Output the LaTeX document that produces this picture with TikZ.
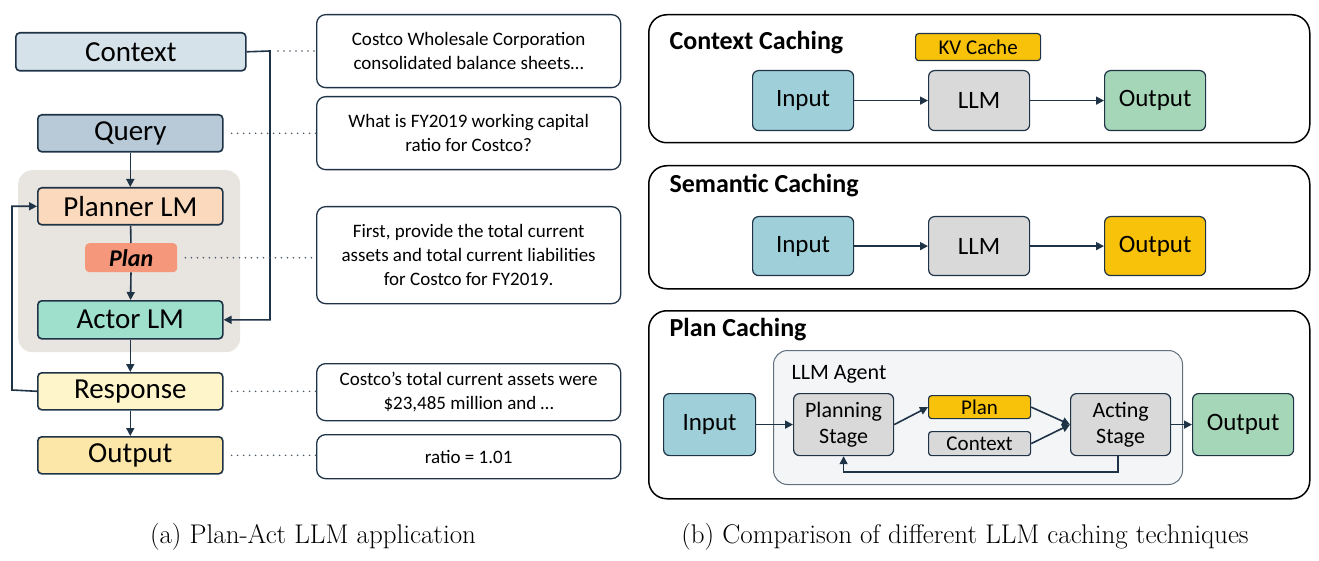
\documentclass[tikz,border=0pt]{standalone}
\usepackage{fontspec}
\setsansfont{Carlito}
\usetikzlibrary{arrows.meta,calc}
\definecolor{ln}{HTML}{1F3347}
\begin{document}
\begin{tikzpicture}[x=1pt,y=-1pt,
 blk/.style={draw=ln,line width=1.6pt,rounded corners=4pt,font=\sffamily\fontsize{29}{29}\selectfont,inner sep=0pt,anchor=north west},
 txt/.style={draw=ln,line width=1.3pt,rounded corners=9pt,font=\sffamily\fontsize{19}{24}\selectfont,align=center,inner sep=0pt,anchor=north west},
 rb/.style={draw=ln,line width=1.2pt,rounded corners=6pt,font=\sffamily\fontsize{25}{25}\selectfont,inner sep=0pt,anchor=north west,align=center},
 pan/.style={draw=black,line width=1.5pt,rounded corners=18pt,anchor=north west,inner sep=0pt},
 ttl/.style={font=\sffamily\bfseries\fontsize{26}{26}\selectfont,anchor=west},
 ar/.style={-{Triangle[length=8pt,width=8pt]},draw=ln,line width=1.6pt},
 dt/.style={draw=ln!80,line width=1.8pt,line cap=round,dash pattern=on 0pt off 6pt}]
\useasboundingbox (0,0) rectangle (1319,561);
% left panel
\node[anchor=north west,fill={rgb,255:red,232;green,228;blue,223},rounded corners=14pt,minimum width=222pt,minimum height=182pt,inner sep=0pt] (bg) at (18,170) {};
\node[blk,fill={rgb,255:red,214;green,226;blue,234},minimum width=230pt,minimum height=38pt] (ctx) at (15,32) {Context};
\node[blk,fill={rgb,255:red,184;green,202;blue,216},minimum width=185pt,minimum height=37pt] (qry) at (37,114) {Query};
\node[blk,fill={rgb,255:red,251;green,217;blue,189},minimum width=185pt,minimum height=37pt] (plm) at (37,187) {Planner LM};
\node[anchor=north west,fill={rgb,255:red,244;green,151;blue,122},rounded corners=4pt,minimum width=92pt,minimum height=29pt,inner sep=0pt,font=\sffamily\bfseries\itshape\fontsize{24}{24}\selectfont] (pln) at (85,243) {Plan};
\node[blk,fill={rgb,255:red,159;green,224;blue,204},minimum width=185pt,minimum height=38pt] (alm) at (37,300) {Actor LM};
\node[blk,fill={rgb,255:red,254;green,246;blue,202},minimum width=185pt,minimum height=37pt] (rsp) at (37,372) {Response};
\node[blk,fill={rgb,255:red,252;green,230;blue,168},minimum width=185pt,minimum height=37pt] (out) at (37,436) {Output};
\draw[ar] (qry) -- (plm);
\draw[draw=ln,line width=1.6pt] (plm) -- (pln);
\draw[ar] (pln) -- (alm);
\draw[ar] (alm) -- (rsp);
\draw[ar] (rsp) -- (out);
\coordinate (c1) at (270,51);
\coordinate (c2) at (12,390);
\draw[ar] (ctx.east) -- (c1) |- (alm.east);
\draw[ar] (rsp.west) -- (c2) |- (plm.west);
\node[txt,minimum width=304pt,minimum height=73pt] (t1) at (316,14) {Costco Wholesale Corporation\\consolidated balance sheets…};
\node[txt,minimum width=304pt,minimum height=73pt] (t2) at (316,96) {What is FY2019 working capital\\ratio for Costco?};
\node[txt,minimum width=304pt,minimum height=97pt] (t3) at (316,206) {First, provide the total current\\assets and total current liabilities\\for Costco for FY2019.};
\node[txt,minimum width=304pt,minimum height=57pt] (t4) at (316,363) {Costco's total current assets were\\\$23,485 million and …};
\node[txt,minimum width=304pt,minimum height=44pt] (t5) at (316,434) {ratio = 1.01};
\draw[dt] ($(c1)+(8,0)$) -- (t1.west|-c1);
\draw[dt] ($(qry.east)+(8,0)$) -- (t2.west|-qry.east);
\draw[dt] ($(pln.east)+(8,0)$) -- (t3.west|-pln.east);
\draw[dt] ($(rsp.east)+(8,0)$) -- (t4.west|-rsp.east);
\draw[dt] ($(out.east)+(8,0)$) -- (t5.west|-out.east);
\node[font=\fontsize{27}{27}\selectfont] (capa) at (313,537) {(a) Plan-Act LLM application};
% right panel
\node[pan,minimum width=661pt,minimum height=128pt] (p1) at (648,14) {};
\node[ttl] (ti1) at (666,43) {Context Caching};
\node[rb,fill={rgb,255:red,249;green,194;blue,10},minimum width=125pt,minimum height=27pt,rounded corners=3pt,font=\sffamily\fontsize{21}{21}\selectfont] (kv) at (915,33) {KV Cache};
\node[rb,fill={rgb,255:red,159;green,207;blue,216},minimum width=101pt,minimum height=60pt] (i1) at (752,70) {Input};
\node[rb,fill={rgb,255:red,217;green,217;blue,217},minimum width=101pt,minimum height=60pt] (l1) at (928,70) {LLM};
\node[rb,fill={rgb,255:red,166;green,214;blue,184},minimum width=101pt,minimum height=60pt] (o1) at (1104,70) {Output};
\draw[ar] (i1) -- (l1); \draw[ar] (l1) -- (o1);
\node[pan,minimum width=661pt,minimum height=123pt] (p2) at (648,165) {};
\node[ttl] (ti2) at (666,186) {Semantic Caching};
\node[rb,fill={rgb,255:red,159;green,207;blue,216},minimum width=101pt,minimum height=59pt] (i2) at (752,216) {Input};
\node[rb,fill={rgb,255:red,217;green,217;blue,217},minimum width=101pt,minimum height=59pt] (l2) at (928,216) {LLM};
\node[rb,fill={rgb,255:red,249;green,194;blue,10},minimum width=101pt,minimum height=59pt] (o2) at (1104,216) {Output};
\draw[ar] (i2) -- (l2); \draw[ar] (l2) -- (o2);
\node[pan,minimum width=661pt,minimum height=188pt] (p3) at (648,310) {};
\node[ttl] (ti3) at (666,330) {Plan Caching};
\node[anchor=north west,draw=ln!70,line width=1pt,fill={rgb,255:red,244;green,245;blue,247},rounded corners=14pt,minimum width=409pt,minimum height=134pt,inner sep=0pt] (ag) at (773,350) {};
\node[anchor=west,font=\sffamily\fontsize{22}{22}\selectfont] (agl) at (788,374) {LLM Agent};
\node[rb,fill={rgb,255:red,159;green,207;blue,216},minimum width=92pt,minimum height=62pt] (i3) at (663,393) {Input};
\node[rb,fill={rgb,255:red,217;green,217;blue,217},minimum width=100pt,minimum height=62pt,font=\sffamily\fontsize{22}{26}\selectfont] (ps) at (793,393) {Planning\\Stage};
\node[rb,fill={rgb,255:red,249;green,194;blue,10},minimum width=102pt,minimum height=23pt,rounded corners=3pt,font=\sffamily\fontsize{21}{21}\selectfont] (pl3) at (928,395) {Plan};
\node[rb,fill={rgb,255:red,217;green,217;blue,217},minimum width=102pt,minimum height=24pt,rounded corners=3pt,font=\sffamily\fontsize{21}{21}\selectfont] (cx3) at (928,431) {Context};
\node[rb,fill={rgb,255:red,217;green,217;blue,217},minimum width=100pt,minimum height=62pt,font=\sffamily\fontsize{22}{26}\selectfont] (as) at (1070,393) {Acting\\Stage};
\node[rb,fill={rgb,255:red,166;green,214;blue,184},minimum width=101pt,minimum height=62pt] (o3) at (1192,393) {Output};
\draw[ar] (i3) -- (ps);
\draw[ar] (ps.east) -- (pl3.west);
\draw[ar] (pl3.east) -- (as.west);
\draw[ar] (cx3.east) -- (as.west);
\draw[ar] (as) -- (o3);
\coordinate (fb) at (1118,472);
\draw[ar] (as.south-|fb) -- (fb) -| (ps.south);
\node[font=\fontsize{27}{27}\selectfont] (capb) at (965,537) {(b) Comparison of different LLM caching techniques};
\end{tikzpicture}
\end{document}
